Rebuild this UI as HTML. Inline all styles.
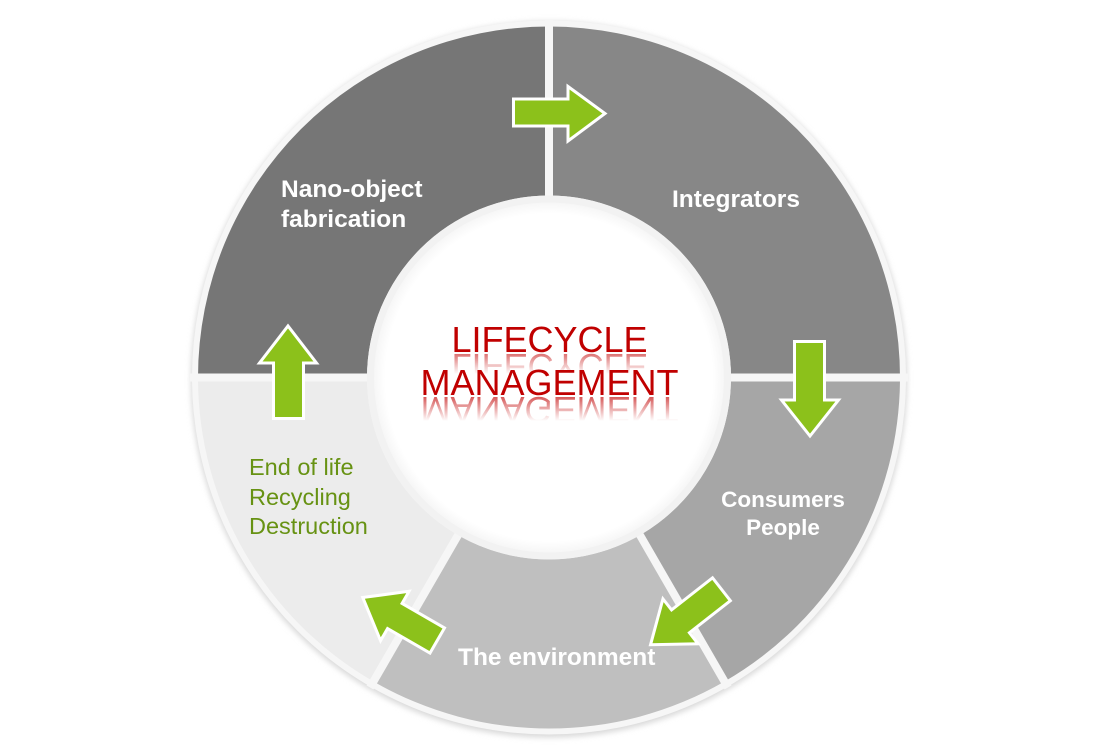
<!DOCTYPE html>
<html>
<head>
<meta charset="utf-8">
<style>
  html, body { margin: 0; padding: 0; background: #ffffff; }
  svg { display: block; }
  .lbl { font-family: "Liberation Sans", Arial, sans-serif; font-weight: bold; fill: #ffffff; font-size: 24.5px; }
  .grn { font-family: "Liberation Sans", Arial, sans-serif; fill: #679213; font-size: 23.5px; }
  .ttl { font-family: "Liberation Sans", Arial, sans-serif; font-size: 36px; }
</style>
</head>
<body>
<svg width="1098" height="756" viewBox="0 0 1098 756" xmlns="http://www.w3.org/2000/svg">
  <defs>
    <filter id="blur" x="-10%" y="-10%" width="120%" height="120%">
      <feGaussianBlur stdDeviation="3"/>
    </filter>
    <linearGradient id="r1" gradientUnits="userSpaceOnUse" x1="0" y1="352" x2="0" y2="332">
      <stop offset="0" stop-color="#c00000" stop-opacity="0.55"/>
      <stop offset="1" stop-color="#c00000" stop-opacity="0"/>
    </linearGradient>
    <linearGradient id="r2" gradientUnits="userSpaceOnUse" x1="0" y1="395" x2="0" y2="371">
      <stop offset="0" stop-color="#c00000" stop-opacity="0.65"/>
      <stop offset="1" stop-color="#c00000" stop-opacity="0"/>
    </linearGradient>
    <radialGradient id="inner" cx="549" cy="377.5" r="182" gradientUnits="userSpaceOnUse">
      <stop offset="0.9" stop-color="#ffffff"/>
      <stop offset="1" stop-color="#f1f1f1"/>
    </radialGradient>
  </defs>

  <rect width="1098" height="756" fill="#ffffff"/>

  <!-- outer shadow + border -->
  <circle cx="549" cy="379.5" r="358" fill="#d8d8d8" filter="url(#blur)"/>
  <circle cx="549" cy="377.5" r="357" fill="#f6f6f6"/>

  <!-- segments -->
  <path d="M198,377.5 A351,351 0 0 1 549,26.5 L549,195.5 A182,182 0 0 0 367,377.5 Z" fill="#767676"/>
  <path d="M549,26.5 A351,351 0 0 1 900,377.5 L731,377.5 A182,182 0 0 0 549,195.5 Z" fill="#878787"/>
  <path d="M900,377.5 A351,351 0 0 1 724.5,681.5 L640,535.1 A182,182 0 0 0 731,377.5 Z" fill="#a6a6a6"/>
  <path d="M724.5,681.5 A351,351 0 0 1 373.5,681.5 L458,535.1 A182,182 0 0 0 640,535.1 Z" fill="#bfbfbf"/>
  <path d="M373.5,681.5 A351,351 0 0 1 198,377.5 L367,377.5 A182,182 0 0 0 458,535.1 Z" fill="#ececec"/>

  <!-- gap lines -->
  <g stroke="#f6f6f6" stroke-width="8">
    <line x1="549" y1="20" x2="549" y2="200"/>
    <line x1="190" y1="377.5" x2="372" y2="377.5"/>
    <line x1="726" y1="377.5" x2="908" y2="377.5"/>
    <line x1="638" y1="531.7" x2="728" y2="687.5"/>
    <line x1="460" y1="531.7" x2="370" y2="687.5"/>
  </g>

  <!-- inner disc -->
  <circle cx="549" cy="377.5" r="182" fill="#f2f2f2"/>
  <circle cx="549" cy="377.5" r="175" fill="url(#inner)"/>

  <!-- title -->
  <text class="ttl" x="549.5" y="352" text-anchor="middle" fill="#c00000">LIFECYCLE</text>
  <text class="ttl" x="549.5" y="352" text-anchor="middle" fill="url(#r1)" transform="matrix(1,0,0,-1,0,706)">LIFECYCLE</text>
  <text class="ttl" x="549.5" y="395" text-anchor="middle" fill="#c00000">MANAGEMENT</text>
  <text class="ttl" x="549.5" y="395" text-anchor="middle" fill="url(#r2)" transform="matrix(1,0,0,-1,0,792)">MANAGEMENT</text>

  <!-- arrows -->
  <g fill="#8cc11b" stroke="#ffffff" stroke-width="3" stroke-linejoin="miter">
    <path d="M513.5,99 L568,99 L568,86.5 L605,113.5 L568,141 L568,126 L513.5,126 Z"/>
    <path d="M273.5,418.5 L273.5,363 L259.5,363 L288,326 L316.5,363 L303.5,363 L303.5,418.5 Z"/>
    <path d="M794.5,341.5 L824.5,341.5 L824.5,400 L838.5,400 L810,436 L781.5,400 L794.5,400 Z"/>
    <path transform="translate(686,617) rotate(142)" d="M-45,-14.5 L7,-14.5 L7,-28.5 L45,0 L7,28.5 L7,14.5 L-45,14.5 Z"/>
    <path transform="translate(400,619) rotate(210)" d="M-43,-14.5 L6,-14.5 L6,-28.5 L43,0 L6,28.5 L6,14.5 L-43,14.5 Z"/>
  </g>

  <!-- labels -->
  <text class="lbl" x="281" y="197">Nano-object</text>
  <text class="lbl" x="281" y="227">fabrication</text>
  <text class="lbl" x="672" y="207">Integrators</text>
  <text class="lbl" x="783" y="507" text-anchor="middle" style="font-size:22.5px">Consumers</text>
  <text class="lbl" x="783" y="535" text-anchor="middle" style="font-size:22.5px">People</text>
  <text class="lbl" x="458" y="665">The environment</text>

  <text class="grn" x="249" y="475">End of life</text>
  <text class="grn" x="249" y="505">Recycling</text>
  <text class="grn" x="249" y="534">Destruction</text>
</svg>
</body>
</html>
